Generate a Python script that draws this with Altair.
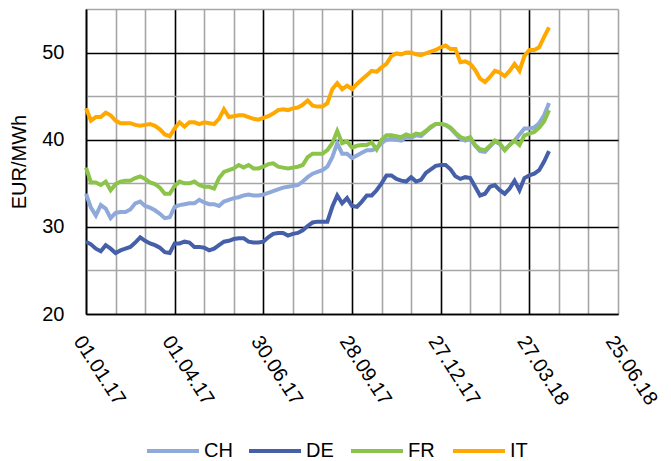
import altair as alt
import pandas as pd
from datetime import date, timedelta

# ---- data ----
start = "2017-01-01"
step_days = 5
series_names = ["CH", "DE", "FR", "IT"]
colors = ["#8FA9DB", "#4560A8", "#8CC34B", "#FFA800"]

IT = [43.6, 42.2, 42.6, 42.6, 43.1, 42.8, 42.2, 41.9, 41.9, 41.9,
      41.7, 41.6, 41.7, 41.8, 41.6, 41.2, 40.6, 40.4, 41.3, 42.0,
      41.5, 42.0, 42.0, 41.8, 42.0, 41.9, 41.8, 42.4, 43.5, 42.6,
      42.7, 42.8, 42.8, 42.6, 42.4, 42.3, 42.5, 42.7, 43.0, 43.4,
      43.5, 43.4, 43.6, 43.7, 44.0, 44.5, 43.9, 43.8, 43.8, 44.2,
      45.8, 46.5, 45.8, 46.2, 45.8, 46.4, 46.9, 47.4, 47.9, 47.8,
      48.3, 48.7, 49.6, 49.9, 49.8, 50.0, 50.0, 49.8, 49.7, 49.9,
      50.1, 50.3, 50.6, 50.8, 50.4, 50.4, 48.9, 49.0, 48.7, 48.0,
      47.0, 46.6, 47.2, 47.9, 47.7, 47.3, 47.9, 48.7, 47.9, 49.6,
      50.3, 50.3, 50.6, 51.8, 52.9]

FR = [36.8, 35.1, 35.1, 34.8, 35.2, 34.2, 34.9, 35.2, 35.3, 35.3,
      35.6, 35.8, 35.5, 35.1, 34.9, 34.5, 33.8, 33.8, 34.7, 35.2,
      35.0, 35.0, 35.2, 34.8, 34.6, 34.6, 34.4, 35.6, 36.3, 36.5,
      36.7, 37.1, 36.8, 37.1, 36.7, 36.7, 36.9, 37.2, 37.3, 36.9,
      36.8, 36.7, 36.8, 36.9, 37.1, 38.0, 38.4, 38.4, 38.4, 38.8,
      39.6, 41.0, 39.6, 39.8, 39.1, 39.3, 39.4, 39.4, 39.7, 38.9,
      40.0, 40.5, 40.5, 40.4, 40.3, 40.6, 40.4, 40.7, 40.6, 41.0,
      41.5, 41.8, 41.8, 41.7, 41.4, 40.8, 40.3, 40.1, 40.3, 39.4,
      38.9, 38.8, 39.3, 39.9, 39.6, 38.8, 39.4, 39.9, 39.4, 40.5,
      40.7, 40.9, 41.4, 42.1, 43.4]

CH = [33.8, 32.2, 31.3, 32.5, 32.1, 31.0, 31.6, 31.7, 31.7, 32.0,
      32.7, 32.9, 32.4, 32.2, 31.9, 31.5, 31.0, 31.1, 32.3, 32.5,
      32.6, 32.7, 32.7, 33.1, 32.8, 32.6, 32.6, 32.4, 32.9, 33.1,
      33.3, 33.4, 33.6, 33.7, 33.6, 33.6, 33.7, 33.9, 34.1, 34.3,
      34.5, 34.6, 34.7, 34.8, 35.2, 35.7, 36.1, 36.3, 36.5, 36.9,
      38.0, 39.6, 38.4, 38.4, 37.9, 38.2, 38.5, 38.8, 38.8, 39.0,
      39.6, 40.0, 40.1, 40.0, 39.9, 40.3, 40.2, 40.5, 40.4, 40.9,
      41.4, 41.8, 41.8, 41.7, 41.3, 40.7, 40.1, 39.9, 40.1, 39.3,
      38.7, 38.6, 39.2, 39.8, 39.5, 38.8, 39.4, 39.9, 40.6, 41.3,
      41.3, 41.4, 41.9, 42.8, 44.2]

DE = [28.3, 28.0, 27.5, 27.2, 27.9, 27.5, 27.0, 27.3, 27.5, 27.7,
      28.2, 28.8, 28.4, 28.1, 27.9, 27.6, 27.1, 27.0, 28.1, 28.1,
      28.3, 28.2, 27.7, 27.7, 27.6, 27.3, 27.5, 27.9, 28.3, 28.4,
      28.6, 28.7, 28.7, 28.3, 28.2, 28.2, 28.3, 28.8, 29.2, 29.3,
      29.3, 29.0, 29.2, 29.3, 29.6, 30.1, 30.5, 30.6, 30.6, 30.6,
      32.3, 33.6, 32.7, 33.3, 32.4, 32.3, 32.9, 33.6, 33.6, 34.2,
      35.0, 35.9, 35.9, 35.5, 35.3, 35.2, 35.7, 35.2, 35.4, 36.2,
      36.6, 37.0, 37.1, 37.1, 36.6, 35.8, 35.5, 35.7, 35.6, 34.6,
      33.6, 33.8, 34.6, 34.8, 34.2, 33.8, 34.4, 35.3, 34.2, 35.6,
      35.9, 36.1, 36.5, 37.5, 38.7]

y_ticks = [20, 25, 30, 35, 40, 45, 50, 55]

# ---- build table ----
dates = pd.date_range(start, periods=len(IT), freq=f"{step_days}D")
rows = []
for name, vals in zip(series_names, [CH, DE, FR, IT]):
    for d, v in zip(dates, vals):
        rows.append({"date": d, "value": v, "series": name})
df = pd.DataFrame(rows)

d0 = date(2017, 1, 1)
x_values = [d0 + timedelta(days=30 * i) for i in range(19)]
x_dt = [alt.DateTime(year=d.year, month=d.month, date=d.day) for d in x_values]

FONT = "Liberation Sans"
GRAY = "#A6A6A6"
FS = 20

major_x = "round((datum.value - datetime(2017,0,1))/864e5) % 90 == 0 && round((datum.value - datetime(2017,0,1))/864e5) < 540"
label_x = "round((datum.value - datetime(2017,0,1))/864e5) % 90 == 0 ? timeFormat(datum.value, '%d.%m.%y') : ''"

chart = alt.Chart(df).mark_line(strokeWidth=4).encode(
    x=alt.X(
        "date:T",
        scale=alt.Scale(domain=[alt.DateTime(year=2017, month=1, date=1),
                                alt.DateTime(year=2018, month=6, date=25)]),
        axis=alt.Axis(
            values=x_dt,
            labelExpr=label_x,
            labelAngle=57,
            labelAlign="left",
            labelBaseline="top",
            tickSize=0,
            labelPadding=18,
            labelOverlap=False,
            labelFlush=False,
            labelBound=False,
            labelFontSize=FS,
            labelFont=FONT,
            labelColor="#000000",
            ticks=False,
            domainColor="#000000",
            domainWidth=1.6,
            grid=True,
            gridColor=alt.condition(major_x, alt.value("#000000"), alt.value(GRAY)),
            gridWidth=1.6,
            title=None,
        ),
    ),
    y=alt.Y(
        "value:Q",
        scale=alt.Scale(domain=[20, 55], nice=False, zero=False),
        axis=alt.Axis(
            values=y_ticks,
            labelExpr="datum.value % 10 == 0 ? datum.value : ''",
            labelFontSize=FS,
            labelFont=FONT,
            labelColor="#000000",
            tickSize=0,
            labelPadding=22,
            ticks=False,
            domainColor="#000000",
            domainWidth=1.6,
            grid=True,
            gridColor=alt.condition("datum.value % 10 == 0", alt.value("#000000"), alt.value(GRAY)),
            gridWidth=1.6,
            title="EUR/MWh",
            titleFont=FONT,
            titleFontSize=FS,
            titleFontWeight="normal",
            titleColor="#000000",
            titlePadding=12,
        ),
    ),
    color=alt.Color(
        "series:N",
        scale=alt.Scale(domain=series_names, range=colors),
        legend=alt.Legend(
            title=None,
            orient="none",
            direction="horizontal",
            legendX=59,
            legendY=414,
            columns=4,
            gridAlign="all",
            columnPadding=8,
            symbolType="stroke",
            symbolSize=2704,
            symbolStrokeWidth=4,
            labelFont=FONT,
            labelFontSize=FS,
            labelColor="#000000",
            labelOffset=3,
        ),
    ),
).properties(
    width=532,
    height=305,
    autosize=alt.AutoSizeParams(type="none"),
    padding={"left": 78, "top": 1, "right": 45, "bottom": 147},
).configure_view(stroke=None)

chart.save("out.html", embed_options={"renderer": "svg", "actions": False})
